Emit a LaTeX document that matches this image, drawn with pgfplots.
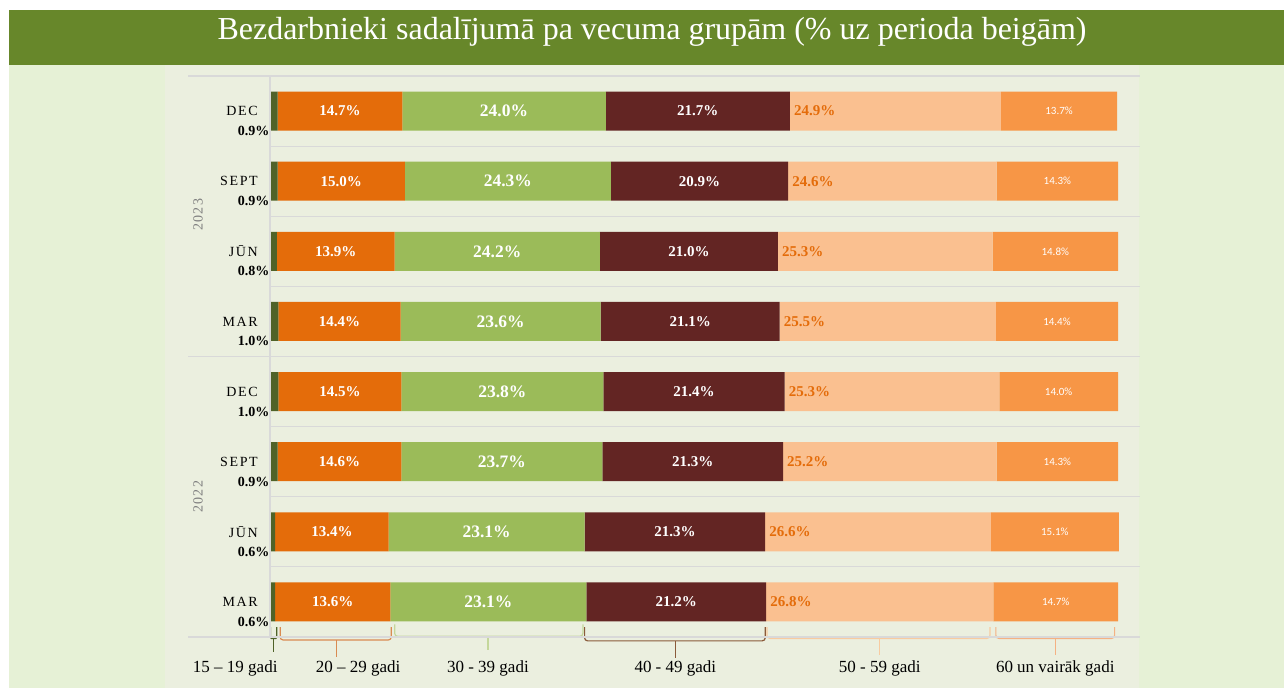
\documentclass[border=0pt]{standalone}
\usepackage{pgfplots}
\pgfplotsset{compat=1.18}
\usepackage{pgfplotstable}
\usepackage{fontspec}
\setmainfont{Liberation Serif}
\newfontfamily\carlito{Carlito}
\definecolor{banner}{HTML}{67872A}
\definecolor{bglight}{HTML}{E6F1D6}
\definecolor{panel}{HTML}{EBEFDF}
\definecolor{gridc}{HTML}{D9D9D9}
\definecolor{cA}{HTML}{4F6228}
\definecolor{cB}{HTML}{E46C0A}
\definecolor{cC}{HTML}{9BBB59}
\definecolor{cD}{HTML}{632523}
\definecolor{cE}{HTML}{FAC090}
\definecolor{cF}{HTML}{F79646}
\definecolor{brB}{HTML}{D98B52}
\definecolor{brC}{HTML}{C4D79B}
\definecolor{brD}{HTML}{8A5A3A}
\definecolor{brE}{HTML}{F8CBA0}
\definecolor{brF}{HTML}{F4B183}
\definecolor{yearc}{HTML}{7F7F7F}

\pgfplotstableread{
y a b c d e f
7 0.9 14.7 24.0 21.7 24.9 13.7
6 0.9 15.0 24.3 20.9 24.6 14.3
5 0.8 13.9 24.2 21.0 25.3 14.8
4 1.0 14.4 23.6 21.1 25.5 14.4
3 1.0 14.5 23.8 21.4 25.3 14.0
2 0.9 14.6 23.7 21.3 25.2 14.3
1 0.6 13.4 23.1 21.3 26.6 15.1
0 0.6 13.6 23.1 21.2 26.8 14.7
}\datatable

\begin{document}
\begin{tikzpicture}
\useasboundingbox (0,0) rectangle (1284bp,688bp);
\fill[white] (0,0) rectangle (1284bp,688bp);
\fill[bglight] (9bp,0) rectangle (1284bp,623bp);
\fill[banner] (9bp,623bp) rectangle (1284bp,678bp);
\fill[panel] (165bp,0) rectangle (1139bp,623bp);
\node[anchor=base, text=white, inner sep=0pt, font=\fontsize{32bp}{36bp}\selectfont] at (652bp,648bp)
  {Bezdarbnieki sadalījumā pa vecuma grupām (\% uz perioda beigām)};
\begin{axis}[
  at={(270bp,51bp)}, anchor=south west,
  x=8.48bp, y=70.125bp,
  xmin=0, xmax=102.6, ymin=-0.5, ymax=7.5,
  xbar stacked, bar width=39bp,
  axis line style={draw=none},
  major tick length=0pt,
  xtick=\empty,
  ytick={0,...,7},
  yticklabels={MAR,JŪN,SEPT,DEC,MAR,JŪN,SEPT,DEC},
  yticklabel style={anchor=east, inner sep=0pt, xshift=-12bp, font=\fontsize{14bp}{16bp}\selectfont\addfontfeature{LetterSpace=12}},
  clip=false,
]
% grid lines
\draw[gridc, line width=1.2bp] (axis cs:-9.67,7.5) -- (axis cs:102.6,7.5);
\draw[gridc, line width=1.2bp] (axis cs:-9.67,3.5) -- (axis cs:102.6,3.5);
\draw[gridc, line width=1.2bp] (axis cs:-9.67,-0.5) -- (axis cs:102.6,-0.5);
\draw[gridc, line width=1.2bp] (axis cs:0,6.5) -- (axis cs:102.6,6.5);
\draw[gridc, line width=1.2bp] (axis cs:0,5.5) -- (axis cs:102.6,5.5);
\draw[gridc, line width=1.2bp] (axis cs:0,4.5) -- (axis cs:102.6,4.5);
\draw[gridc, line width=1.2bp] (axis cs:0,2.5) -- (axis cs:102.6,2.5);
\draw[gridc, line width=1.2bp] (axis cs:0,1.5) -- (axis cs:102.6,1.5);
\draw[gridc, line width=1.2bp] (axis cs:0,0.5) -- (axis cs:102.6,0.5);
\draw[gridc, line width=1.2bp] (axis cs:0,-0.5) -- (axis cs:0,7.5);

\addplot[fill=cA, draw=none, point meta=explicit symbolic, nodes near coords={\pgfplotspointmeta\%},
  every node near coord/.append style={anchor=east, inner sep=0.5bp, xshift={-\pgfplotspointmeta*4.24bp}, yshift=-20bp, text=black, font=\fontsize{14bp}{16bp}\selectfont\bfseries}]
  table[x=a, y=y, meta=a]{\datatable};
\addplot[fill=cB, draw=none, point meta=explicit symbolic, nodes near coords={\pgfplotspointmeta\%},
  every node near coord/.append style={anchor=center, text=white, font=\fontsize{15bp}{17bp}\selectfont\bfseries}]
  table[x=b, y=y, meta=b]{\datatable};
\addplot[fill=cC, draw=none, point meta=explicit symbolic, nodes near coords={\pgfplotspointmeta\%},
  every node near coord/.append style={anchor=center, text=white, font=\fontsize{17.5bp}{19bp}\selectfont\bfseries}]
  table[x=c, y=y, meta=c]{\datatable};
\addplot[fill=cD, draw=none, point meta=explicit symbolic, nodes near coords={\pgfplotspointmeta\%},
  every node near coord/.append style={anchor=center, text=white, font=\fontsize{15bp}{17bp}\selectfont\bfseries}]
  table[x=d, y=y, meta=d]{\datatable};
\addplot[fill=cE, draw=none, point meta=explicit symbolic, nodes near coords={\pgfplotspointmeta\%},
  every node near coord/.append style={anchor=west, inner sep=0pt, xshift={-\pgfplotspointmeta*4.24bp+4bp}, text=cB, font=\fontsize{15bp}{17bp}\selectfont\bfseries}]
  table[x=e, y=y, meta=e]{\datatable};
\addplot[fill=cF, draw=none, point meta=explicit symbolic, nodes near coords={\pgfplotspointmeta\%},
  every node near coord/.append style={anchor=center, text=white, font=\fontsize{11bp}{13bp}\carlito}]
  table[x=f, y=y, meta=f]{\datatable};

% year labels
\node[rotate=90, text=yearc, font=\fontsize{14bp}{16bp}\selectfont\addfontfeature{LetterSpace=10}] at (axis cs:-8.49,5.52) {2023};
\node[rotate=90, text=yearc, font=\fontsize{14bp}{16bp}\selectfont\addfontfeature{LetterSpace=10}] at (axis cs:-8.49,1.50) {2022};

% braces
\draw[cA, line width=1.2bp, rounded corners=1bp] (axis cs:0.05,-0.36) -- (axis cs:0.05,-0.52) -- (axis cs:0.8,-0.52) -- (axis cs:0.8,-0.36);
\draw[cA, line width=1.2bp] (axis cs:0.45,-0.52) -- (axis cs:0.45,-0.72);
\draw[brB, line width=1.2bp, rounded corners=3bp] (axis cs:1.2,-0.36) -- (axis cs:1.2,-0.543) -- (axis cs:14.3,-0.543) -- (axis cs:14.3,-0.36);
\draw[brB, line width=1.2bp] (axis cs:7.8,-0.543) -- (axis cs:7.8,-0.785);
\draw[brC, line width=1.2bp, rounded corners=3bp] (axis cs:14.7,-0.32) -- (axis cs:14.7,-0.49) -- (axis cs:36.9,-0.49) -- (axis cs:36.9,-0.32);
\draw[brC, line width=1.2bp] (axis cs:25.7,-0.49) -- (axis cs:25.7,-0.69);
\draw[brD, line width=1.2bp, rounded corners=3bp] (axis cs:37.1,-0.36) -- (axis cs:37.1,-0.555) -- (axis cs:58.4,-0.555) -- (axis cs:58.4,-0.36);
\draw[brD, line width=1.2bp] (axis cs:47.8,-0.555) -- (axis cs:47.8,-0.80);
\draw[brE, line width=1.2bp, rounded corners=3bp] (axis cs:58.6,-0.36) -- (axis cs:58.6,-0.52) -- (axis cs:84.9,-0.52) -- (axis cs:84.9,-0.36);
\draw[brE, line width=1.2bp] (axis cs:71.9,-0.52) -- (axis cs:71.9,-0.75);
\draw[brF, line width=1.2bp, rounded corners=3bp] (axis cs:85.6,-0.36) -- (axis cs:85.6,-0.52) -- (axis cs:99.6,-0.52) -- (axis cs:99.6,-0.36);
\draw[brF, line width=1.2bp] (axis cs:92.6,-0.52) -- (axis cs:92.6,-0.75);

% brace labels
\node[font=\fontsize{17bp}{19bp}\selectfont] at (axis cs:-4.1,-0.942) {15 – 19 gadi};
\node[font=\fontsize{17bp}{19bp}\selectfont] at (axis cs:10.4,-0.942) {20 – 29 gadi};
\node[font=\fontsize{17bp}{19bp}\selectfont] at (axis cs:25.7,-0.942) {30 - 39 gadi};
\node[font=\fontsize{17bp}{19bp}\selectfont] at (axis cs:47.8,-0.942) {40 - 49 gadi};
\node[font=\fontsize{17bp}{19bp}\selectfont] at (axis cs:71.9,-0.942) {50 - 59 gadi};
\node[font=\fontsize{17bp}{19bp}\selectfont] at (axis cs:92.6,-0.942) {60 un vairāk gadi};
\end{axis}
\end{tikzpicture}
\end{document}
